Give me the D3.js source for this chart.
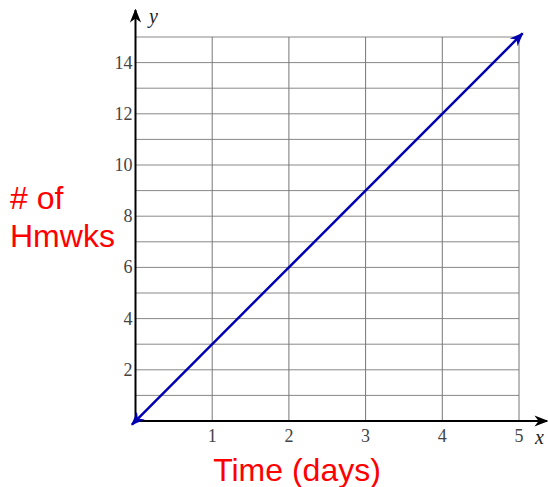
<!DOCTYPE html>
<html><head><meta charset="utf-8">
<script src="https://cdn.jsdelivr.net/npm/d3@7"></script>
<style>body{margin:0;background:#fff}svg{display:block}</style>
</head><body>
<script>
const xTicks = [1, 2, 3, 4, 5];
const yTicks = [2, 4, 6, 8, 10, 12, 14];
const yGrid = [1,2,3,4,5,6,7,8,9,10,11,12,13,14,15];
const lineX = [0, 5];
const lineY = [0, 15];
const xLabel = "Time (days)";
const yLabel = ["# of", "Hmwks"];

const W = 548, H = 487;
const svg = d3.select("body").append("svg").attr("width", W).attr("height", H);
const x = d3.scaleLinear().domain([0, 5]).range([135.5, 519]);
const y = d3.scaleLinear().domain([0, 15]).range([421, 37]);

const defs = svg.append("defs");
defs.append("marker").attr("id", "axArrow").attr("viewBox", "0 0 10 10")
  .attr("refX", 9).attr("refY", 5).attr("markerWidth", 14).attr("markerHeight", 14)
  .attr("markerUnits", "userSpaceOnUse").attr("orient", "auto")
  .append("path").attr("d", "M0,1 L10,5 L0,9 L3,5 Z").attr("fill", "#000");
defs.append("marker").attr("id", "lnArrow").attr("viewBox", "0 0 10 10")
  .attr("refX", 9).attr("refY", 5).attr("markerWidth", 14).attr("markerHeight", 14)
  .attr("markerUnits", "userSpaceOnUse").attr("orient", "auto-start-reverse")
  .append("path").attr("d", "M0,1 L10,5 L0,9 L3,5 Z").attr("fill", "#0000b0");

// grid
const g = svg.append("g");
g.selectAll(".hg").data(yGrid).enter().append("line")
  .attr("x1", x(0)).attr("x2", x(5)).attr("y1", d => y(d)).attr("y2", d => y(d))
  .attr("stroke", "#888").attr("stroke-width", 1);
g.selectAll(".vg").data(xTicks).enter().append("line")
  .attr("x1", d => x(d)).attr("x2", d => x(d)).attr("y1", y(0)).attr("y2", y(15))
  .attr("stroke", "#777").attr("stroke-width", 1);

// axes
svg.append("line").attr("x1", x(0)).attr("x2", 547).attr("y1", y(0)).attr("y2", y(0))
  .attr("stroke", "#000").attr("stroke-width", 2).attr("marker-end", "url(#axArrow)");
svg.append("line").attr("x1", x(0)).attr("x2", x(0)).attr("y1", y(0)).attr("y2", 10)
  .attr("stroke", "#000").attr("stroke-width", 2).attr("marker-end", "url(#axArrow)");

// tick labels
svg.selectAll(".xt").data(xTicks).enter().append("text")
  .attr("x", d => x(d)).attr("y", y(0) + 21).attr("text-anchor", "middle")
  .attr("font-family", "Liberation Serif, serif").attr("font-size", 18).attr("fill", "#444")
  .text(d => d);
svg.selectAll(".yt").data(yTicks).enter().append("text")
  .attr("x", x(0) - 3).attr("y", d => y(d) + 6).attr("text-anchor", "end")
  .attr("font-family", "Liberation Serif, serif").attr("font-size", 18).attr("fill", "#444")
  .text(d => d);

svg.append("text").attr("x", 149).attr("y", 23).attr("font-family", "Liberation Serif, serif")
  .attr("font-style", "italic").attr("font-size", 20).attr("fill", "#222").text("y");
svg.append("text").attr("x", 535).attr("y", 444).attr("font-family", "Liberation Serif, serif")
  .attr("font-style", "italic").attr("font-size", 20).attr("fill", "#222").text("x");

// line
const pts = lineX.map((v, i) => [v, lineY[i]]);
const dx = x(5) - x(0), dy = y(15) - y(0);
const len = Math.hypot(dx, dy), ux = dx / len, uy = dy / len;
const ext = 5;
svg.append("line")
  .attr("x1", x(pts[0][0]) - ux * ext).attr("y1", y(pts[0][1]) - uy * ext)
  .attr("x2", x(pts[1][0]) + ux * ext).attr("y2", y(pts[1][1]) + uy * ext)
  .attr("stroke", "#0000b0").attr("stroke-width", 2.5)
  .attr("marker-start", "url(#lnArrow)").attr("marker-end", "url(#lnArrow)");

// labels
svg.append("text").attr("x", 297).attr("y", 481).attr("text-anchor", "middle")
  .attr("font-family", "Liberation Sans, Arial, sans-serif").attr("font-size", 32).attr("fill", "#ff0000")
  .text(xLabel);
yLabel.forEach((t, i) => {
  svg.append("text").attr("x", 10).attr("y", 209 + i * 38)
    .attr("font-family", "Liberation Sans, Arial, sans-serif").attr("font-size", 32).attr("fill", "#ff0000")
    .text(t);
});
</script>
</body></html>
